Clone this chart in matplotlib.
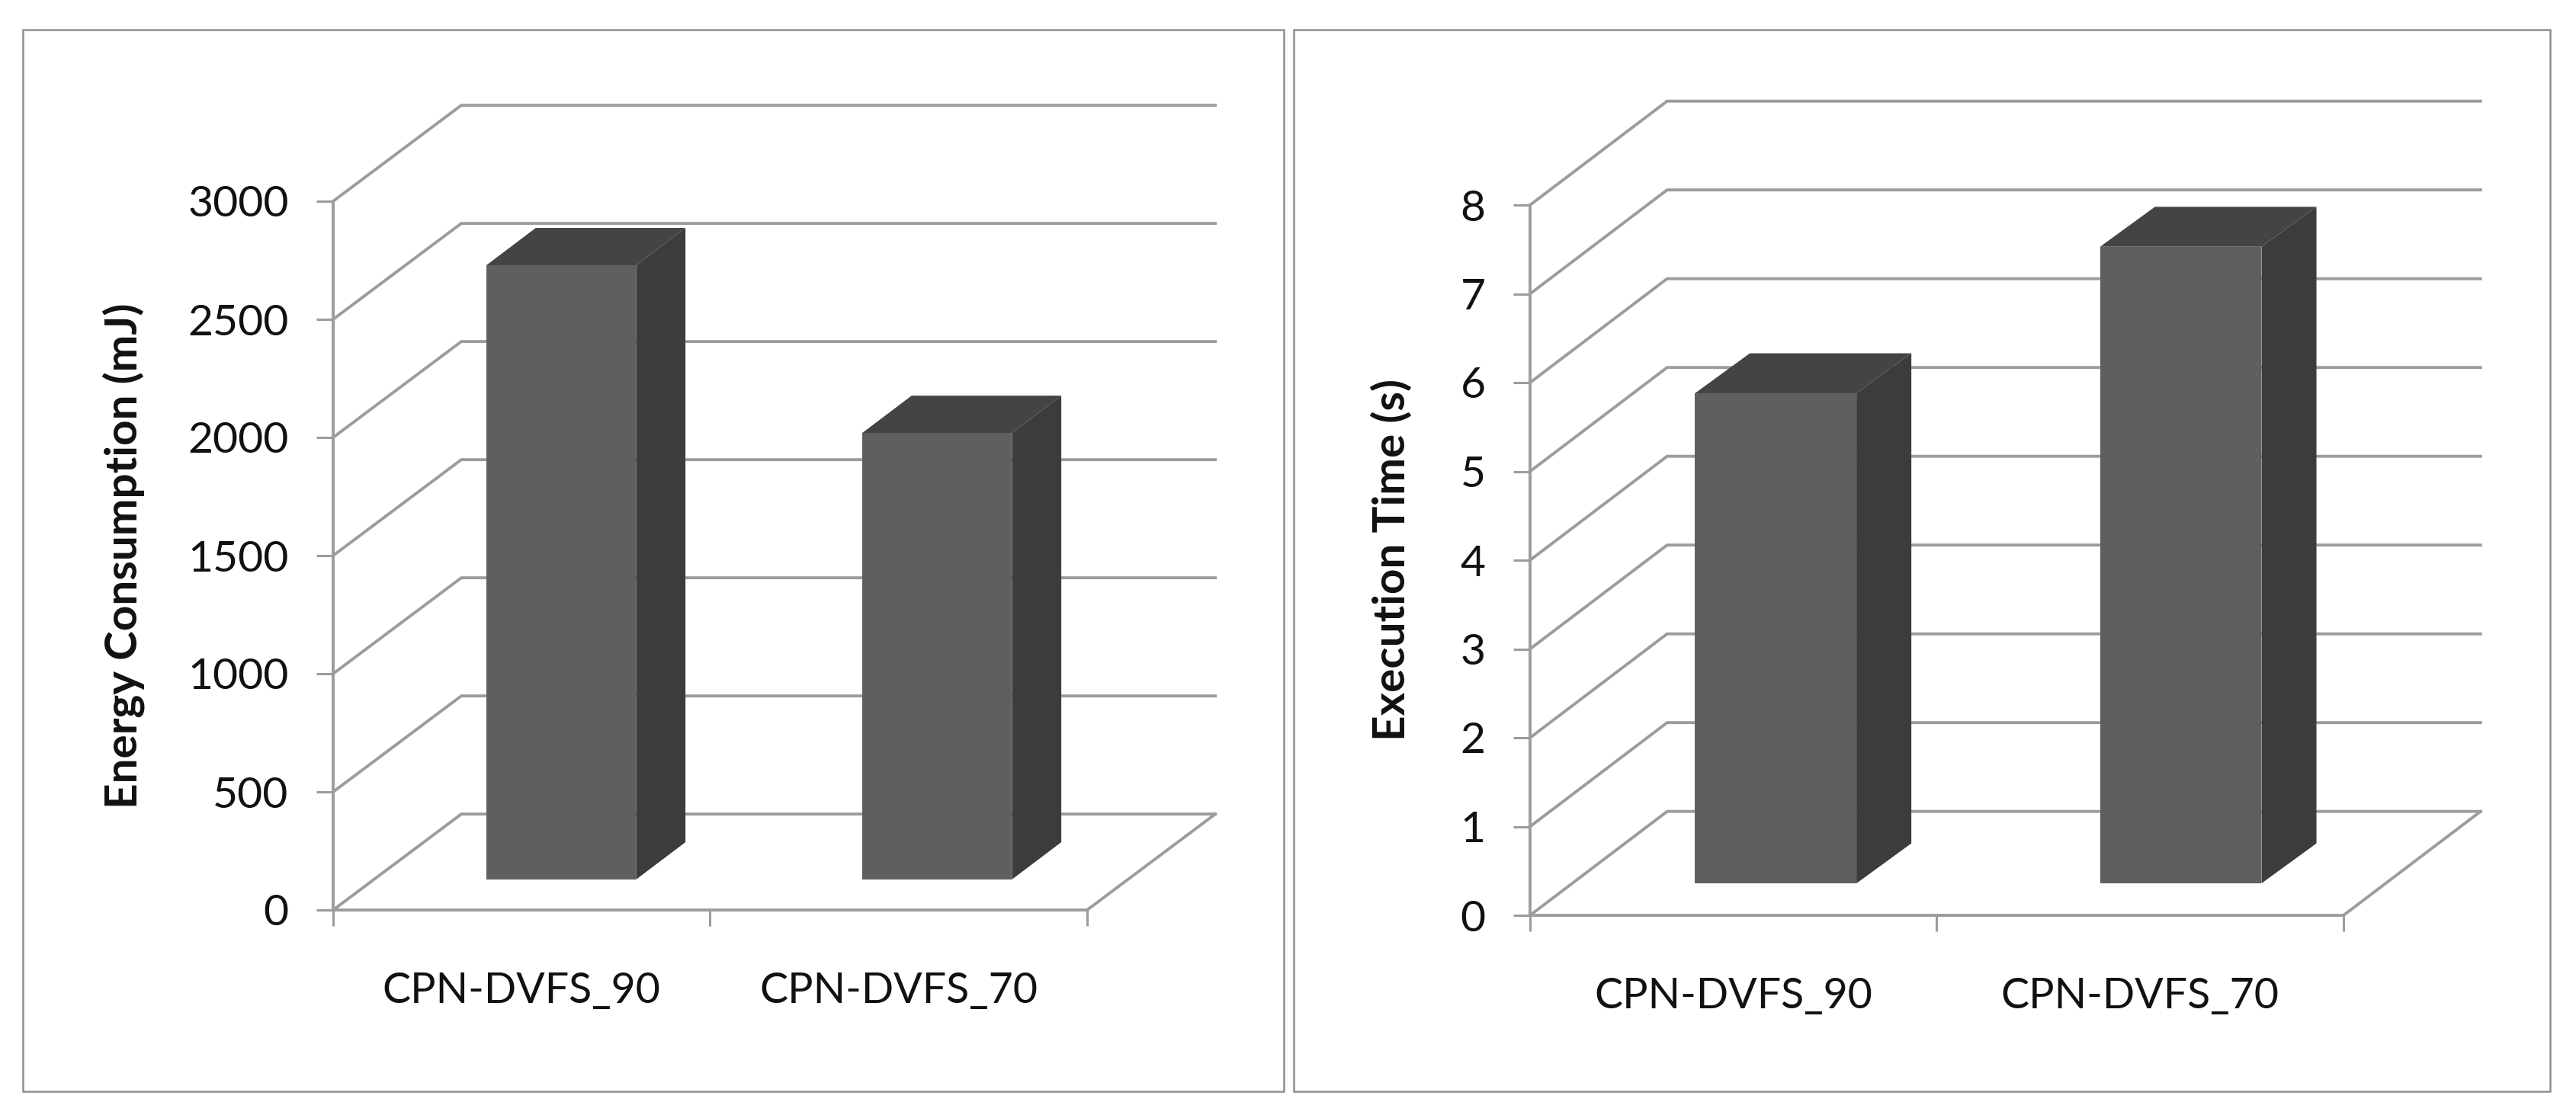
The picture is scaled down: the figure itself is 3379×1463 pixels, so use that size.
import matplotlib
matplotlib.use("Agg")
import matplotlib.pyplot as plt
from matplotlib.patches import Polygon, Rectangle

plt.rcParams["font.family"] = ["Lato", "DejaVu Sans"]

W, H = 3380, 1463

# data
categories = ["CPN-DVFS_90", "CPN-DVFS_70"]
energy_values = [2600, 1890]
energy_ticks = [0, 500, 1000, 1500, 2000, 2500, 3000]
time_values = [5.52, 7.17]
time_ticks = [0, 1, 2, 3, 4, 5, 6, 7, 8]

GRID = "#9c9c9c"
FRONT = "#5f5f5f"
SIDE = "#3c3c3c"
TOP = "#444444"
FRAME = "#8f8f8f"
TEXT = "#111111"

fig = plt.figure(figsize=(W / 100, H / 100), dpi=100, facecolor="white")


# box in pixels, measured from the top left of the image
def add_frame(x0, y0, x1, y1):
    fig.add_artist(Rectangle((x0 / W, 1 - y1 / H), (x1 - x0) / W, (y1 - y0) / H,
                             transform=fig.transFigure, fill=False,
                             edgecolor=FRAME, linewidth=1.8))


def draw_chart(box, values, ticks, ylabel, centers, base, wall, bar_depth, label_x):
    x0, y0, x1, y1 = box
    ax = fig.add_axes([x0 / W, 1 - y0 / H, (x1 - x0) / W, (y0 - y1) / H])
    ax.patch.set_visible(False)
    ax.set_xlim(0, 2)
    ax.set_ylim(ticks[0], ticks[-1])
    wall_x, wall_y = wall
    depth_x, depth_y = bar_depth

    # back wall and the diagonals going to it
    for t in ticks:
        ax.plot([0, wall_x, 2 + wall_x], [t, t + wall_y, t + wall_y],
                color=GRID, lw=2.8, clip_on=False, zorder=1, solid_joinstyle="miter")
    ax.plot([2, 2 + wall_x], [0, wall_y], color=GRID, lw=2.8, clip_on=False, zorder=1)

    # fake 3D bars
    width = 0.397
    for c, v in zip(centers, values):
        left, right = c - width / 2, c + width / 2
        bottom, top = base, base + v
        ax.add_patch(Polygon([(right, bottom), (right + depth_x, bottom + depth_y),
                              (right + depth_x, top + depth_y), (right, top)],
                             facecolor=SIDE, edgecolor="none", clip_on=False, zorder=2))
        ax.add_patch(Polygon([(left, top), (right, top),
                              (right + depth_x, top + depth_y), (left + depth_x, top + depth_y)],
                             facecolor=TOP, edgecolor="none", clip_on=False, zorder=2))
        ax.add_patch(Rectangle((left, bottom), width, v, facecolor=FRONT,
                               edgecolor="none", clip_on=False, zorder=3))

    for name in ["top", "right"]:
        ax.spines[name].set_visible(False)
    for name in ["left", "bottom"]:
        ax.spines[name].set_color(GRID)
        ax.spines[name].set_linewidth(2.8)
        ax.spines[name].set_zorder(4)

    ax.set_yticks(ticks)
    ax.set_xticks([0, 1, 2])
    ax.set_xticklabels([])
    ax.set_xticks([0.5, 1.5], minor=True)
    ax.set_xticklabels(categories, minor=True, fontsize=40, color=TEXT)
    ax.tick_params(axis="x", which="major", length=15, width=2.2, color=GRID)
    ax.tick_params(axis="x", which="minor", length=0, pad=58)
    ax.tick_params(axis="y", length=16, width=2.2, color=GRID, pad=26, labelsize=41,
                   labelcolor=TEXT)
    ax.set_ylabel(ylabel, fontsize=42, fontweight="bold", color=TEXT)
    ax.yaxis.set_label_coords(label_x, 0.5)
    return ax


add_frame(30, 39, 1684, 1432)
add_frame(1697, 39, 3345, 1432)

draw_chart((437, 1194, 1426, 264), energy_values, energy_ticks,
           "Energy Consumption (mJ)", [0.605, 1.602], 129,
           (0.34, 406), (0.131, 158), -0.25)
draw_chart((2007, 1201, 3074, 269), time_values, time_ticks,
           "Execution Time (s)", [0.604, 1.60], 0.36,
           (0.337, 1.17), (0.135, 0.45), -0.144)

fig.savefig("out.png", dpi=100, facecolor="white")
